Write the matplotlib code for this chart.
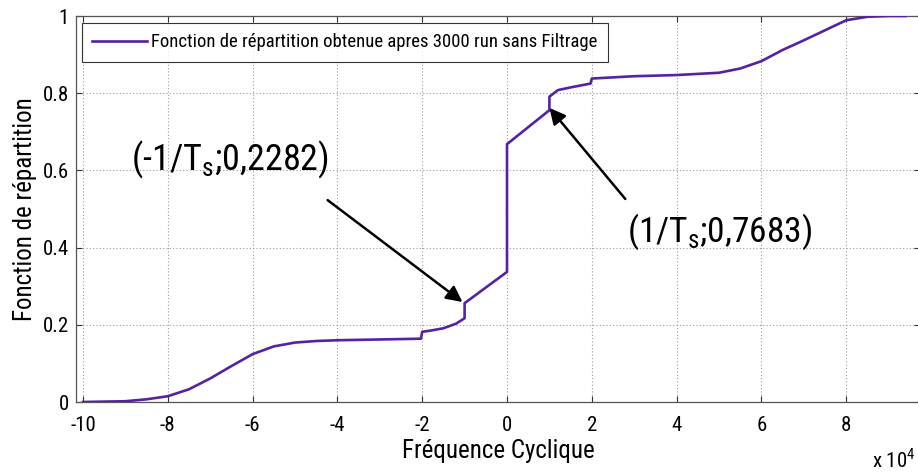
import matplotlib
matplotlib.use("Agg")
import matplotlib.pyplot as plt
from matplotlib import font_manager as fm

# ---------------- data ----------------
freq = [-10, -9.5, -9, -8.5, -8, -7.5, -7, -6.5, -6, -5.5, -5, -4.5, -4, -3, -2.5,
        -2.03, -2, -1.8, -1.5, -1.2, -1.0, -1.0, 0.0, 0.0, 1.0, 1.0, 1.2, 1.5,
        1.97, 2.0, 3, 4, 5, 5.5, 6, 6.5, 7, 7.5, 8, 8.5, 9.0, 9.4]
cdf = [0.0, 0.001, 0.002, 0.007, 0.015, 0.033, 0.061, 0.093, 0.124, 0.144, 0.154,
       0.158, 0.160, 0.162, 0.163, 0.164, 0.182, 0.185, 0.191, 0.203, 0.217, 0.256,
       0.337, 0.668, 0.756, 0.791, 0.808, 0.815, 0.825, 0.838, 0.844, 0.847,
       0.853, 0.864, 0.883, 0.912, 0.937, 0.963, 0.989, 0.998, 1.0, 1.0]

xticks = [-10, -8, -6, -4, -2, 0, 2, 4, 6, 8]
xticklabels = ["-10", "-8", "-6", "-4", "-2", "0", "2", "4", "6", "8"]
yticks = [0, 0.2, 0.4, 0.6, 0.8, 1.0]
yticklabels = ["0", "0.2", "0.4", "0.6", "0.8", "1"]

legend_label = "Fonction de répartition obtenue apres 3000 run sans Filtrage"
xlabel = "Fréquence Cyclique"
ylabel = "Fonction de répartition"
ann1_text = r"(-1/T$_\mathregular{s}$;0,2282)"
ann1_xy = (-1.05, 0.259)
ann1_text_xy = (-4.23, 0.523)
ann2_text = r"(1/T$_\mathregular{s}$;0,7683)"
ann2_xy = (1.0, 0.762)
ann2_text_xy = (2.79, 0.526)

# ---------------- fonts: condensed face ----------------
def has_font(name):
    try:
        fm.findfont(fm.FontProperties(family=name), fallback_to_default=False)
        return True
    except Exception:
        return False

FONT = "Roboto Condensed" if has_font("Roboto Condensed") else "DejaVu Sans"
plt.rcParams["font.family"] = [FONT, "DejaVu Sans"]
plt.rcParams["mathtext.fontset"] = "custom"
plt.rcParams["mathtext.rm"] = FONT

W, H = 918, 472
fig = plt.figure(figsize=(W / 100, H / 100), dpi=100)
left_px, right_px, top_px, bottom_px = 76, 920, 16, 402
ax = fig.add_axes([left_px / W, 1 - bottom_px / H,
                   (right_px - left_px) / W, (bottom_px - top_px) / H])

line_color = "#5521a5"
ax.plot(freq, cdf, color=line_color, lw=1.9, label=legend_label, zorder=3)

xmin = -10 - 7 / 42.4
xmax = xmin + (right_px - left_px) / 42.4
ax.set_xlim(xmin, xmax)
ax.set_ylim(0, 1)
ax.set_xticks(xticks)
ax.set_xticklabels(xticklabels)
ax.set_yticks(yticks)
ax.set_yticklabels(yticklabels)

ax.grid(True, linestyle=(0, (1, 2)), color="#9a9a9a", lw=0.8)
ax.tick_params(direction="in", length=4, width=0.8, colors="#333333",
               labelcolor="black", labelsize=15, top=True, right=True)
ax.tick_params(axis="x", pad=10)
ax.tick_params(axis="y", pad=5)
for s in ax.spines.values():
    s.set_color("#555555")
    s.set_linewidth(0.9)

ax.set_xlabel(xlabel, fontsize=18, labelpad=3)
ax.set_ylabel(ylabel, fontsize=18, labelpad=4)

leg = ax.legend(loc="upper left",
                bbox_to_anchor=(6 / (right_px - left_px), 1 - 7 / (bottom_px - top_px)),
                borderaxespad=0, fontsize=13.5, frameon=True, fancybox=False,
                handlelength=2.9, handletextpad=0.25, borderpad=0.55)
leg.get_frame().set_edgecolor("black")
leg.get_frame().set_linewidth(0.8)

arrow_kw = dict(arrowstyle="-|>", color="black", lw=1.8, mutation_scale=24,
                shrinkA=0, shrinkB=0)
ax.annotate("", xy=ann1_xy, xytext=ann1_text_xy, arrowprops=arrow_kw, zorder=4)
ax.annotate("", xy=ann2_xy, xytext=ann2_text_xy, arrowprops=arrow_kw, zorder=4)
ax.text(-8.86, 0.601, ann1_text, fontsize=26, ha="left", va="baseline")
ax.text(2.82, 0.415, ann2_text, fontsize=25.5, ha="left", va="baseline")

fig.text(0.997, 1 - 467 / H, r"x 10$^{\mathregular{4}}$", fontsize=15,
         ha="right", va="baseline")

fig.savefig("out.png", dpi=100)
